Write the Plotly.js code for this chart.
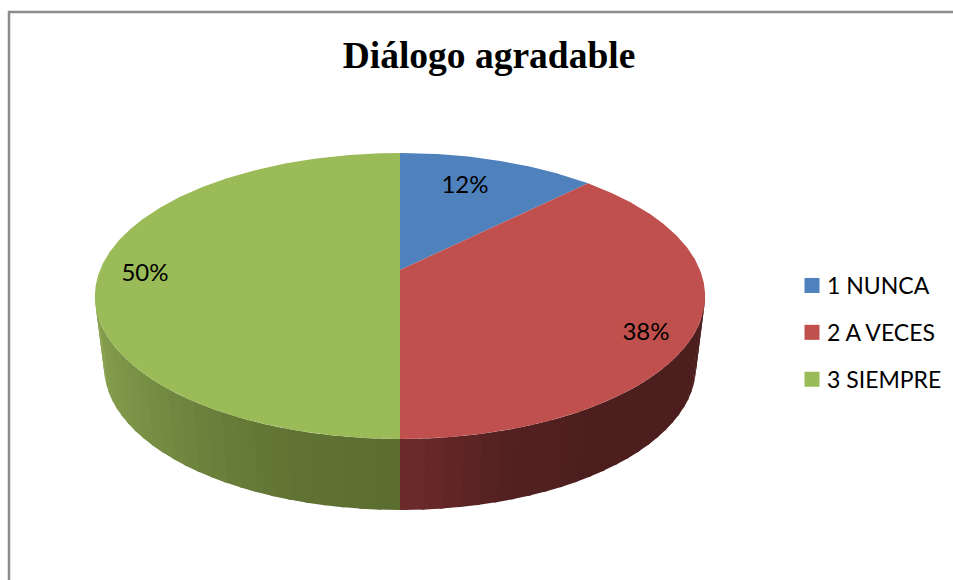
<!DOCTYPE html>
<html>
<head>
<meta charset="utf-8">
<script src="https://cdn.plot.ly/plotly-3.0.1.min.js"></script>
<style>html,body{margin:0;padding:0;background:#fff}#chart{width:953px;height:580px}</style>
</head>
<body>
<div id="chart"></div>
<script>
// Data
const categories = ['1 NUNCA', '2 A VECES', '3 SIEMPRE'];
const sliceValues = [12.5, 37.5, 50];
const sliceLabels = ['12%', '38%', '50%'];
const titleText = 'Diálogo agradable';

// Style
const topColors = ['#4f81bd', '#c0504d', '#9bbb59'];
const wallStops = [
  null,
  [[0, [110, 42, 43]], [0.2, [84, 33, 34]], [0.4, [77, 30, 30]], [1, [77, 30, 30]]],
  [[0, [90, 108, 47]], [0.25, [98, 117, 53]], [0.65, [122, 147, 70]], [1, [139, 166, 82]]]
];
const labelAnchors = [[465, 187], [646, 334], [145, 275]];

// Disc geometry (pixel axes), with a perspective foreshortening
const CX = 400, CY = 296, D = 300, A = 143, B = 26, C = 52 / 286;
const DEPTH = 71, LOWER_SCALE = 0.97;
function rim(deg) {
  const r = deg * Math.PI / 180, u = Math.sin(r), v = Math.cos(r), w = 1 + C * v;
  return {dx: D * u / w, dy: (-A * v - B) / w};
}
function topPt(deg) { const p = rim(deg); return [CX + p.dx, CY + p.dy]; }
function lowPt(deg) { const p = rim(deg); return [CX + LOWER_SCALE * p.dx, CY + p.dy + DEPTH]; }
function range(a, b, step) {
  const out = [];
  for (let d = a; d < b; d += step) out.push(d);
  out.push(b);
  return out;
}
function polyTrace(pts, color) {
  return {
    type: 'scatter', mode: 'lines', x: pts.map(p => p[0]), y: pts.map(p => p[1]),
    fill: 'toself', fillcolor: color, line: {width: 0, color: color},
    hoverinfo: 'skip', showlegend: false
  };
}
function shade(stops, t) {
  for (let i = 1; i < stops.length; i++) {
    if (t <= stops[i][0]) {
      const a = stops[i - 1], b = stops[i], f = (t - a[0]) / (b[0] - a[0]);
      const c = a[1].map((ch, k) => Math.round(ch + (b[1][k] - ch) * f));
      return 'rgb(' + c.join(',') + ')';
    }
  }
  return 'rgb(' + stops[stops.length - 1][1].join(',') + ')';
}

// Slice extents from the values, clockwise from 12 o'clock
const total = sliceValues.reduce((a, b) => a + b, 0);
const extents = [];
let acc = 0;
sliceValues.forEach(v => { const s = acc; acc += v; extents.push([s / total * 360, acc / total * 360]); });

const traces = [];
// Walls: only the part facing the viewer is visible
const WALL_FROM = 98, WALL_TO = 262, STRIP = 3;
extents.forEach((e, i) => {
  if (!wallStops[i]) return;
  const from = Math.max(e[0], WALL_FROM), to = Math.min(e[1], WALL_TO);
  if (from >= to) return;
  for (let d = from; d < to; d += STRIP) {
    const end = Math.min(d + STRIP, to);
    const mid = (d + end) / 2;
    const t = Math.abs(mid - 180) / 82;
    const over = end < to ? 0.6 : 0;
    const angs = range(d, end + over, 0.5);
    const pts = angs.map(topPt).concat(angs.slice().reverse().map(lowPt));
    traces.push(polyTrace(pts, shade(wallStops[i], t)));
  }
});
// Top faces
extents.forEach((e, i) => {
  const pts = [[CX, CY - B]];
  range(e[0], e[1], 0.5).forEach(d => pts.push(topPt(d)));
  traces.push(polyTrace(pts, topColors[i]));
});
// Percentage labels
traces.push({
  type: 'scatter', mode: 'text',
  x: labelAnchors.map(p => p[0]), y: labelAnchors.map(p => p[1]),
  text: sliceLabels, textposition: 'middle center',
  textfont: {family: 'Lato, sans-serif', size: 24, color: '#000'},
  hoverinfo: 'skip', showlegend: false
});
// Legend entries
categories.forEach((name, i) => {
  traces.push({
    type: 'scatter', mode: 'markers', x: [null], y: [null], name: name,
    legendgroup: name,
    marker: {symbol: 'square', size: 15, color: topColors[i]},
    hoverinfo: 'skip', showlegend: true
  });
});

const layout = {
  width: 953, height: 580,
  margin: {l: 0, r: 0, t: 0, b: 0},
  paper_bgcolor: '#fff', plot_bgcolor: '#fff',
  title: {
    text: titleText, x: 489 / 953, xanchor: 'center', y: 1 - 55 / 580, yanchor: 'middle',
    font: {family: '"Liberation Serif", serif', size: 37.5, color: '#000', weight: 'bold'}
  },
  xaxis: {range: [0, 953], visible: false, fixedrange: true},
  yaxis: {range: [580, 0], visible: false, fixedrange: true},
  showlegend: true,
  legend: {
    x: 792 / 953, xanchor: 'left', y: 1 - 264 / 580, yanchor: 'top',
    font: {family: 'Lato, sans-serif', size: 23, color: '#000'},
    tracegroupgap: 14, itemclick: false, itemdoubleclick: false, bgcolor: 'rgba(0,0,0,0)'
  },
  shapes: [
    {type: 'line', xref: 'paper', yref: 'paper', x0: 9 / 953, x1: 9 / 953, y0: 0, y1: 1 - 11 / 580, line: {color: '#8c8c8c', width: 2.5}},
    {type: 'line', xref: 'paper', yref: 'paper', x0: 8 / 953, x1: 1, y0: 1 - 12 / 580, y1: 1 - 12 / 580, line: {color: '#8c8c8c', width: 2.5}}
  ]
};
Plotly.newPlot('chart', traces, layout, {displayModeBar: false, staticPlot: true}).then(gd => {
  gd.querySelectorAll('.legendtext').forEach(t => t.setAttribute('x', 35));
});
</script>
</body>
</html>
